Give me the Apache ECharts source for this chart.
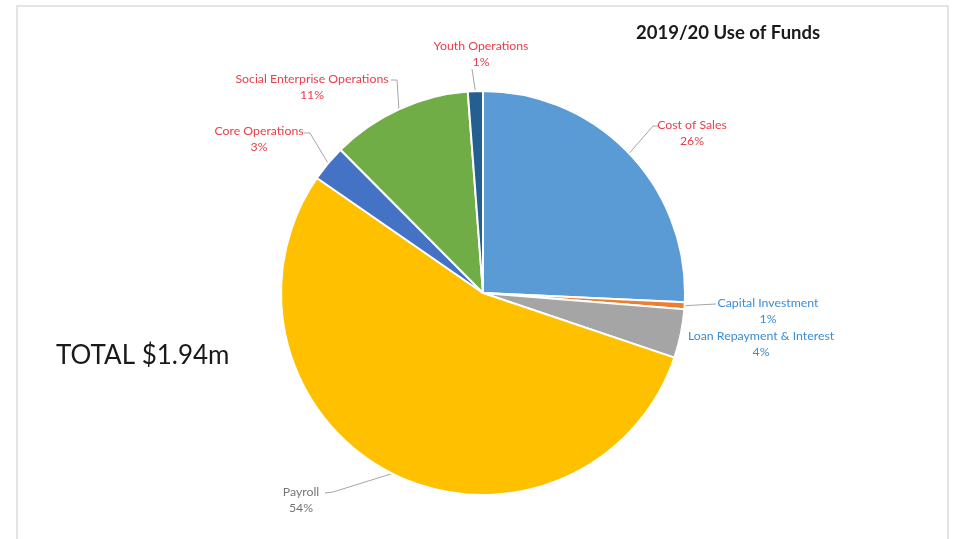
<!DOCTYPE html>
<html>
<head>
<meta charset="utf-8">
<script src="https://cdn.jsdelivr.net/npm/echarts@6/dist/echarts.min.js"></script>
<style>
html,body{margin:0;padding:0;background:#fff;}
#chart{width:962px;height:539px;}
</style>
</head>
<body>
<div id="chart"></div>
<script>
// ---- data ----
const categories = ['Cost of Sales', 'Capital Investment', 'Loan Repayment & Interest', 'Payroll', 'Core Operations', 'Social Enterprise Operations', 'Youth Operations'];
const values = [25.7, 0.55, 3.9, 54.4, 2.9, 11.25, 1.2];
const titleText = '2019/20 Use of Funds';
const totalText = 'TOTAL $1.94m';

// ---- styling ----
const sliceColors = ['#5B9BD5', '#ED7D31', '#A5A5A5', '#FFC000', '#4472C4', '#70AD47', '#255E91'];
const labelColors = ['#E8404A', '#3A8DD6', '#3A8DD6', '#767676', '#E8404A', '#E8404A', '#E8404A'];
// label block centres and label-line end points (layout only)
const labelPos = [[692, 133], [768, 311], [761, 344], [301, 500], [259, 139], [312, 87], [481, 54]];
const lineEnds = [[[653, 126], [658, 126]], [[716, 304], [716, 304]], null, [[333, 492], [325, 493]], [[310, 133], [304, 133]], [[397, 80], [391, 80]], [[472, 69], [472, 69]]];

const chart = echarts.init(document.getElementById('chart'));
const data = categories.map((c, i) => ({
  name: c,
  value: values[i],
  itemStyle: { color: sliceColors[i] },
  label: { color: labelColors[i] },
  labelLine: { show: lineEnds[i] !== null }
}));

chart.setOption({
  animation: false,
  backgroundColor: '#fff',
  graphic: [
    { type: 'rect', shape: { x: 17, y: 6, width: 931, height: 560 }, style: { fill: 'none', stroke: '#dcdcdc', lineWidth: 1.5 }, silent: true },
    { type: 'text', left: 636, top: 24, style: { text: titleText, font: 'bold 18.5px Lato', fill: '#1a1a1a' } },
    { type: 'text', left: 56, top: 343, style: { text: totalText, font: '26px Lato', fill: '#1a1a1a' } }
  ],
  series: [{
    type: 'pie',
    center: [483, 293],
    radius: 202,
    startAngle: 90,
    clockwise: true,
    data: data,
    itemStyle: { borderColor: '#fff', borderWidth: 2 },
    emphasis: { disabled: true },
    label: {
      show: true,
      position: 'outside',
      fontFamily: 'Lato',
      fontSize: 12.3,
      lineHeight: 16,
      align: 'center',
      formatter: p => p.name + '\n' + Math.round(p.percent) + '%'
    },
    labelLine: { show: true, length: 10, length2: 10, lineStyle: { color: '#a6a6a6', width: 1 } },
    labelLayout: function (params) {
      const i = params.dataIndex;
      const res = { x: labelPos[i][0], y: labelPos[i][1], align: 'center', verticalAlign: 'middle' };
      if (lineEnds[i] && params.labelLinePoints) {
        const p0 = params.labelLinePoints[0];
        res.labelLinePoints = [p0, lineEnds[i][0], lineEnds[i][1]];
      }
      return res;
    }
  }]
});
</script>
</body>
</html>
